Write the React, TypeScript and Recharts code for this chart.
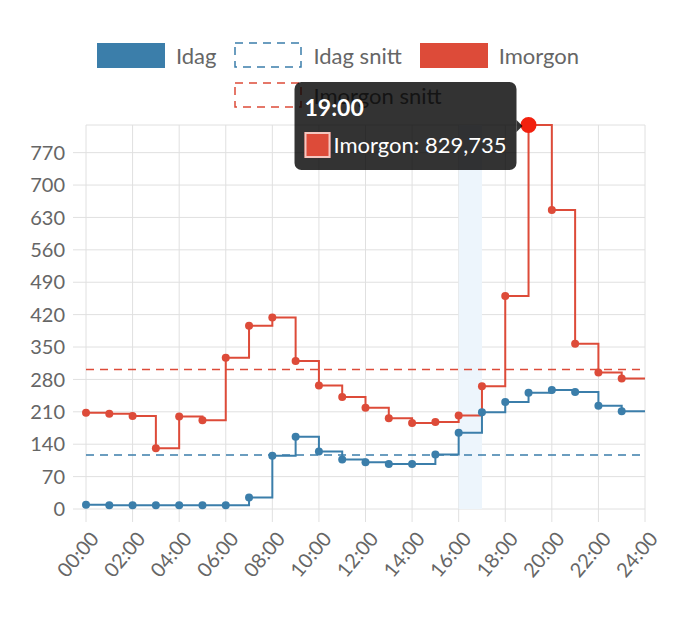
/**
 * App
 *
 * Step chart comparing hourly values for today (Idag) and tomorrow (Imorgon),
 * with dashed average lines and a pinned tooltip at 19:00.
 */

import React from 'react';
import {
    ComposedChart,
    Line,
    XAxis,
    YAxis,
    CartesianGrid,
    Tooltip,
    ReferenceLine,
    ReferenceArea,
} from 'recharts';

// Data
const HOURS = [
    '00:00', '01:00', '02:00', '03:00', '04:00', '05:00', '06:00', '07:00',
    '08:00', '09:00', '10:00', '11:00', '12:00', '13:00', '14:00', '15:00',
    '16:00', '17:00', '18:00', '19:00', '20:00', '21:00', '22:00', '23:00',
];
const END_LABEL = '24:00';

const IDAG = [
    9, 8, 8, 8, 8, 8, 8, 25,
    115, 156, 124, 107, 101, 97, 97, 118,
    165, 209, 231, 251, 257, 253, 223, 211,
];
const IMORGON = [
    208, 206, 201, 131, 200, 192, 327, 396,
    414, 320, 267, 242, 219, 196, 186, 188,
    202, 265, 460, 829.735, 646, 357, 295, 282,
];

const IDAG_SNITT = 116.5;
const IMORGON_SNITT = 301.3;

const X_TICKS = [
    '00:00', '02:00', '04:00', '06:00', '08:00', '10:00', '12:00',
    '14:00', '16:00', '18:00', '20:00', '22:00', '24:00',
];
const Y_TICKS = [0, 70, 140, 210, 280, 350, 420, 490, 560, 630, 700, 770];

const HIGHLIGHT_FROM = '16:00';
const HIGHLIGHT_TO = '17:00';
const TOOLTIP_INDEX = 19;

// Colors
const BLUE = '#3b7eaa';
const RED = '#dd4b39';
const RED_ACTIVE = '#f2210f';
const GRID = '#e0e0e0';
const TEXT = '#666666';

// the last step runs on to 24:00, so repeat the final values there
const rows = [
    ...HOURS.map((hour, i) => ({ hour, idag: IDAG[i], imorgon: IMORGON[i] })),
    { hour: END_LABEL, idag: IDAG[IDAG.length - 1], imorgon: IMORGON[IMORGON.length - 1] },
];

const dotFor = (color: string) => (props: any) => {
    const { cx, cy, index } = props;
    if (index >= HOURS.length) return <g key={`d-${index}`} />;
    return <circle key={`d-${index}`} cx={cx} cy={cy} r={4} fill={color} />;
};

const XTick = ({ x, y, payload }: any) => (
    <text
        x={x + 10}
        y={y + 12}
        transform={`rotate(-50, ${x + 10}, ${y + 12})`}
        textAnchor="end"
        dominantBaseline="middle"
        fill={TEXT}
        fontSize={20}
    >
        {payload.value}
    </text>
);

const TooltipBox = ({ active, payload, label }: any) => {
    if (!active || !payload) return null;
    const item = payload.find((p: any) => p.dataKey === 'imorgon');
    if (!item) return null;
    const bg = 'rgba(0,0,0,0.8)';
    return (
        <div style={{ display: 'flex', alignItems: 'center', fontFamily: 'Lato' }}>
            <div
                style={{
                    background: bg,
                    borderRadius: 7,
                    padding: '10px 10px 10px 10px',
                    color: '#fff',
                    fontSize: 22,
                    lineHeight: '30px',
                    whiteSpace: 'nowrap',
                }}
            >
                <div style={{ fontWeight: 700, fontSize: 23, marginBottom: 8 }}>{label}</div>
                <div style={{ display: 'flex', alignItems: 'center' }}>
                    <span
                        style={{
                            display: 'inline-block',
                            width: 26,
                            height: 26,
                            boxSizing: 'border-box',
                            background: RED,
                            border: '2px solid #f4c7c0',
                            marginRight: 3,
                        }}
                    />
                    {`Imorgon: ${String(item.value).replace('.', ',')}`}
                </div>
            </div>
            <div
                style={{
                    width: 0,
                    height: 0,
                    borderTop: '6px solid transparent',
                    borderBottom: '6px solid transparent',
                    borderLeft: `6px solid ${bg}`,
                }}
            />
        </div>
    );
};

const SolidBox = ({ color }: { color: string }) => (
    <span style={{ display: 'inline-block', width: 68, height: 25, background: color, marginRight: 11 }} />
);

const DashedBox = ({ color }: { color: string }) => (
    <svg width={68} height={26} style={{ marginRight: 11, display: 'block' }}>
        <rect x={1} y={1} width={66} height={24} fill="none" stroke={color} strokeWidth={1.5} strokeDasharray="8 6" />
    </svg>
);

const legendRow: React.CSSProperties = {
    display: 'flex',
    justifyContent: 'center',
    alignItems: 'center',
    height: 26,
};
const legendItem: React.CSSProperties = { display: 'flex', alignItems: 'center', marginRight: 18 };

const ChartLegend = () => (
    <div
        style={{
            position: 'absolute',
            left: 0,
            top: 42,
            width: 694,
            fontSize: 22,
            color: TEXT,
        }}
    >
        <div style={legendRow}>
            <div style={legendItem}><SolidBox color={BLUE} />Idag</div>
            <div style={legendItem}><DashedBox color={BLUE} />Idag snitt</div>
            <div style={legendItem}><SolidBox color={RED} />Imorgon</div>
        </div>
        <div style={{ ...legendRow, marginTop: 14 }}>
            <div style={legendItem}><DashedBox color={RED} />Imorgon snitt</div>
        </div>
    </div>
);

export default function App() {
    return (
        <div style={{ position: 'relative', width: 700, height: 625, fontFamily: 'Lato' }}>
            <style>{'body { margin: 0; }'}</style>
            <ChartLegend />
            <ComposedChart
                width={700}
                height={625}
                data={rows}
                margin={{ top: 125, right: 55, left: 0, bottom: 26 }}
            >
                <ReferenceArea
                    x1={HIGHLIGHT_FROM}
                    x2={HIGHLIGHT_TO}
                    fill="#edf5fc"
                    fillOpacity={1}
                    stroke="none"
                />
                <CartesianGrid stroke={GRID} />
                <XAxis
                    dataKey="hour"
                    ticks={X_TICKS}
                    interval={0}
                    axisLine={false}
                    tickLine={{ stroke: GRID }}
                    tickSize={13}
                    tickMargin={2}
                    height={90}
                    tick={<XTick />}
                />
                <YAxis
                    type="number"
                    domain={[0, 'dataMax']}
                    ticks={Y_TICKS}
                    interval={0}
                    width={86}
                    axisLine={false}
                    tickLine={{ stroke: GRID }}
                    tickSize={13}
                    tickMargin={8}
                    tick={{ fill: TEXT, fontSize: 20 }}
                />
                <ReferenceLine y={IDAG_SNITT} stroke={BLUE} strokeWidth={1.5} strokeDasharray="8 6" />
                <ReferenceLine y={IMORGON_SNITT} stroke={RED} strokeWidth={1.5} strokeDasharray="8 6" />
                <Line
                    type="stepAfter"
                    dataKey="imorgon"
                    name="Imorgon"
                    stroke={RED}
                    strokeWidth={2}
                    dot={dotFor(RED)}
                    activeDot={{ r: 7, fill: RED_ACTIVE, stroke: RED_ACTIVE }}
                    isAnimationActive={false}
                />
                <Line
                    type="stepAfter"
                    dataKey="idag"
                    name="Idag"
                    stroke={BLUE}
                    strokeWidth={2}
                    dot={dotFor(BLUE)}
                    activeDot={false}
                    isAnimationActive={false}
                />
                <Tooltip
                    content={<TooltipBox />}
                    defaultIndex={TOOLTIP_INDEX}
                    cursor={false}
                    offset={6}
                    position={{ y: 82 }}
                    isAnimationActive={false}
                />
            </ComposedChart>
        </div>
    );
}
